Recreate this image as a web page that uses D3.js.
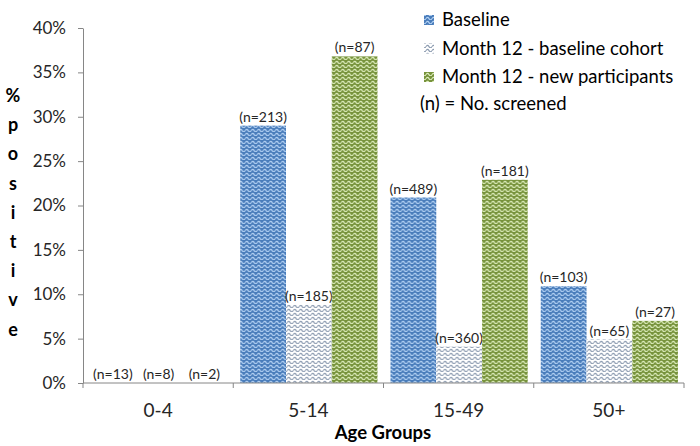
<!DOCTYPE html>
<html><head><meta charset="utf-8">
<script src="https://cdn.jsdelivr.net/npm/d3@7"></script>
<style>body{margin:0;background:#fff;} svg{display:block;font-family:Lato,"Open Sans",sans-serif;}</style>
</head><body>
<svg id="c" width="700" height="446"></svg>
<script>
const categories = ["0-4", "5-14", "15-49", "50+"];
const seriesNames = ["Baseline", "Month 12 - baseline cohort", "Month 12 - new participants"];
const baseline = [0, 0.29, 0.209, 0.109];
const month12Cohort = [0, 0.088, 0.041, 0.049];
const month12New = [0, 0.368, 0.229, 0.070];
const nBaseline = [13, 213, 489, 103];
const nCohort = [8, 185, 360, 65];
const nNew = [2, 87, 181, 27];
const yTicks = [0, 0.05, 0.10, 0.15, 0.20, 0.25, 0.30, 0.35, 0.40];

const values = [baseline, month12Cohort, month12New];
const ns = [nBaseline, nCohort, nNew];

const svg = d3.select("#c");
const defs = svg.append("defs");
const pats = [
  {id: "pBlue", bg: "#4a7dbb", fg: "#b4d2f4"},
  {id: "pWhite", bg: "#ffffff", fg: "#8c9bb0"},
  {id: "pGreen", bg: "#77933c", fg: "#dfeebf"}
];
pats.forEach(p => {
  const pt = defs.append("pattern").attr("id", p.id).attr("patternUnits", "userSpaceOnUse")
    .attr("width", 6).attr("height", 4);
  pt.append("rect").attr("width", 6).attr("height", 4).attr("fill", p.bg);
  pt.append("path").attr("d", "M0,2.6 Q1.5,0.2 3,2.6 T6,2.6").attr("fill", "none")
    .attr("stroke", p.fg).attr("stroke-width", 1.1);
});

const x = d3.scaleBand().domain(categories).range([83, 684]).padding(0);
const xs = d3.scaleBand().domain(d3.range(3)).range([7, x.bandwidth() - 6]).padding(0);
const y = d3.scaleLinear().domain([0, 0.4]).range([383, 28]);

const axisColor = "#868686";

// y axis
const ya = svg.append("g").attr("transform", "translate(83,0)")
  .call(d3.axisLeft(y).tickValues(yTicks).tickFormat(d3.format(".0%")).tickSize(5).tickSizeOuter(0));
ya.select(".domain").attr("stroke", axisColor);
ya.selectAll(".tick line").attr("stroke", axisColor);
ya.selectAll(".tick text").attr("font-size", 17).attr("fill", "#262626").attr("x", -17)
  .attr("font-family", "Lato, sans-serif");

// bars
categories.forEach((c, ci) => {
  const g = svg.append("g").attr("transform", `translate(${x(c)},0)`);
  values.forEach((vals, si) => {
    const v = vals[ci];
    g.append("rect").attr("x", xs(si)).attr("width", xs.bandwidth())
      .attr("y", y(v)).attr("height", y(0) - y(v))
      .attr("fill", `url(#${pats[si].id})`);
    g.append("text").attr("x", xs(si) + xs.bandwidth() / 2).attr("y", y(v) - 4)
      .attr("text-anchor", "middle").attr("font-size", 14).attr("fill", "#262626")
      .text(`(n=${ns[si][ci]})`);
  });
});

// x axis
const xa = svg.append("g").attr("transform", "translate(0,383)");
xa.append("line").attr("x1", 83).attr("x2", 684).attr("stroke", axisColor);
const bounds = categories.map(c => x(c)).concat([x(categories[categories.length - 1]) + x.bandwidth()]);
xa.selectAll(".tk").data(bounds).join("line").attr("x1", d => d).attr("x2", d => d)
  .attr("y1", 0).attr("y2", 5).attr("stroke", axisColor);
xa.selectAll(".lbl").data(categories).join("text")
  .attr("x", d => x(d) + x.bandwidth() / 2).attr("y", 34).attr("text-anchor", "middle")
  .attr("font-size", 19).attr("fill", "#262626").text(d => d);

// axis titles
svg.append("text").attr("x", 383).attr("y", 439).attr("text-anchor", "middle")
  .attr("font-size", 18.5).attr("font-weight", "bold").attr("fill", "#000").text("Age Groups");
const yTitle = "%positive".split("");
svg.append("g").selectAll("text").data(yTitle).join("text")
  .attr("x", 13).attr("y", (d, i) => 102 + i * 29.2).attr("text-anchor", "middle")
  .attr("font-size", 18).attr("font-weight", "bold").attr("fill", "#000").text(d => d);

// legend
const lg = svg.append("g");
seriesNames.forEach((s, i) => {
  const yy = 20 + i * 28.5;
  lg.append("rect").attr("x", 424).attr("y", yy - 5).attr("width", 10).attr("height", 10)
    .attr("fill", `url(#${pats[i].id})`);
  lg.append("text").attr("x", 442).attr("y", yy + 6).attr("font-size", 18.5).attr("fill", "#000").text(s);
});
lg.append("text").attr("x", 420).attr("y", 110).attr("font-size", 18.5).attr("fill", "#000").text("(n) = No. screened");
</script>
</body></html>
